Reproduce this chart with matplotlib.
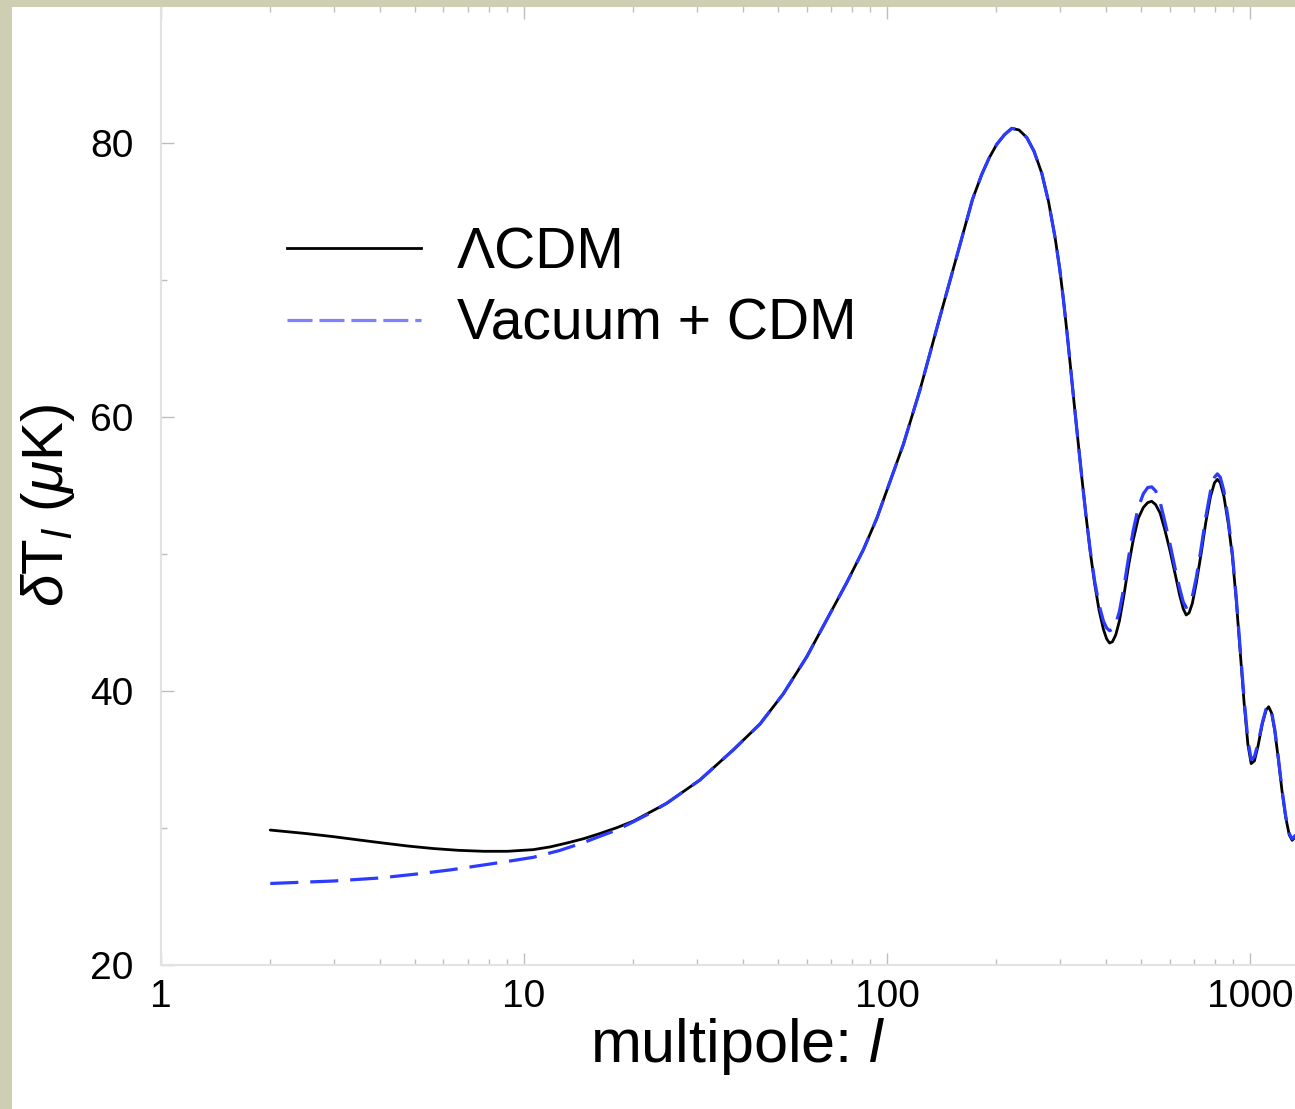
import matplotlib
matplotlib.use("Agg")
import matplotlib.pyplot as plt
from matplotlib.patches import Rectangle
from matplotlib.lines import Line2D

plt.rcParams['font.family'] = ['Liberation Sans', 'DejaVu Sans']
plt.rcParams['mathtext.fontset'] = 'custom'
plt.rcParams['mathtext.rm'] = 'Liberation Sans'
plt.rcParams['mathtext.it'] = 'Liberation Sans:italic'

# ---- data ----
l_lcdm = [2, 2.5, 2.98, 3.5, 4.1, 4.8, 5.63, 6.6, 7.73, 9.0, 10.6, 11.8, 13.1, 14.6, 16.2,
          18.0, 20, 24.7, 30.5, 37.7, 44.7,
          51.8, 60.1, 68.2, 77.4, 86, 93.7, 101, 110.9, 123.3, 138.5, 158.9, 172,
          182.3, 191, 200.5, 210.5, 220.6, 231, 242.6, 254, 266.8, 278.6, 290.3,
          299, 306, 313.3, 320, 327.3, 335, 343.6, 353.2, 363.1, 373.3, 383.7,
          394.5, 402.7, 410.2, 417.8, 426.6, 436.5, 448.7, 462.4, 476.4, 492,
          508.2, 522.4, 535.8, 549.5, 565, 582, 601, 621, 639.7, 654.6, 666.8,
          679.2, 693.4, 711.2, 732.8, 755.1, 778, 798, 812.8, 827.9, 847.2, 871,
          893.3, 916.2, 939.7, 963.8, 986.3, 1006.9, 1028, 1052, 1081, 1107, 1125,
          1146, 1169.5, 1196.7, 1224.6, 1253, 1282, 1306, 1337]
dT_lcdm = [29.85, 29.6, 29.37, 29.13, 28.9, 28.68, 28.5, 28.37, 28.3, 28.3, 28.42, 28.62,
           28.9, 29.22, 29.6, 30.02, 30.5, 31.8, 33.5, 35.7, 37.6,
           39.8, 42.5, 45.2, 47.9, 50.3, 52.6, 55.0, 58.0, 62.0, 66.9, 72.6, 75.9,
           77.7, 78.9, 79.9, 80.6, 81.07, 80.95, 80.4, 79.4, 77.8, 75.7, 73.1,
           70.8, 68.6, 66.1, 63.7, 61.1, 58.5, 55.7, 52.8, 50.1, 47.8, 45.9,
           44.5, 43.8, 43.5, 43.6, 44.1, 45.1, 46.9, 49.1, 51.0, 52.6,
           53.4, 53.75, 53.85, 53.6, 53.0, 51.8, 50.3, 48.6, 47.0, 46.0, 45.55,
           45.7, 46.4, 47.9, 50.0, 52.3, 54.2, 55.2, 55.45, 55.2, 54.2, 52.2,
           49.9, 46.6, 42.8, 39.0, 36.1, 34.7, 34.9, 36.0, 37.6, 38.6, 38.85,
           38.4, 37.1, 35.0, 32.7, 30.8, 29.5, 29.1, 29.4]

l_vac = [2, 2.98, 4.0, 5.06, 6.3, 7.73, 9.1, 10.6, 12.5, 14.57, 16.2, 18.0, 20, 22.2, 24.7,
         30.5, 37.7, 44.7,
         51.8, 60.1, 68.2, 77.4, 86, 93.7, 101, 110.9, 123.3, 138.5, 158.9, 172,
         182.3, 191, 200.5, 210.5, 220.6, 231, 242.6, 254, 266.8, 278.6, 290.3,
         299, 306, 313.3, 320, 327.3, 335, 343.6, 353.2, 363.1, 373.3, 383.7,
         394.5, 402.7, 410.2, 417.8, 426.6, 436.5, 448.7, 462.4, 476.4, 492,
         508.2, 522.4, 535.8, 549.5, 565, 582, 601, 621, 639.7, 654.6, 666.8,
         679.2, 693.4, 711.2, 732.8, 755.1, 778, 798, 812.8, 827.9, 847.2, 871,
         893.3, 916.2, 939.7, 963.8, 986.3, 1006.9, 1028, 1052, 1081, 1107, 1125,
         1146, 1169.5, 1196.7, 1224.6, 1253, 1282, 1306, 1337]
dT_vac = [25.95, 26.13, 26.35, 26.64, 26.95, 27.3, 27.58, 27.86, 28.35, 28.93, 29.4, 29.85,
          30.45, 31.07, 31.8,
          33.5, 35.7, 37.6,
          39.8, 42.5, 45.2, 47.9, 50.3, 52.6, 55.0, 58.0, 62.0, 66.9, 72.6, 75.9,
          77.7, 78.9, 79.9, 80.6, 81.07, 80.95, 80.4, 79.4, 77.8, 75.7, 73.1,
          70.8, 68.6, 66.1, 63.7, 61.1, 58.5, 55.7, 52.8, 50.2, 48.0, 46.3,
          45.1, 44.6, 44.4, 44.5, 44.9, 45.8, 47.5, 49.7, 51.7, 53.4,
          54.4, 54.85, 54.9, 54.6, 53.8, 52.4, 50.8, 49.0, 47.5, 46.5, 46.1,
          46.25, 46.9, 48.3, 50.4, 52.7, 54.6, 55.6, 55.85, 55.6, 54.6, 52.5,
          50.1, 46.8, 43.0, 39.3, 36.4, 35.0, 35.2, 36.2, 37.7, 38.7, 38.9,
          38.5, 37.2, 35.1, 32.8, 30.9, 29.6, 29.2, 29.5]

x_ticks = [1, 10, 100, 1000]
x_ticklabels = ['1', '10', '100', '1000']
y_ticks = [20, 40, 60, 80]
y_minor = [30, 50, 70]
series_labels = ['ΛCDM', 'Vacuum + CDM']

W, H = 1295, 1109
fig = plt.figure(figsize=(W / 100, H / 100), dpi=100)
fig.patch.set_facecolor('white')

border = '#cdceb2'
fig.add_artist(Rectangle((0, 0), 12 / W, 1, transform=fig.transFigure,
                         facecolor=border, edgecolor='none', zorder=20))
fig.add_artist(Rectangle((0, 1 - 7 / H), 1, 7 / H, transform=fig.transFigure,
                         facecolor=border, edgecolor='none', zorder=20))

ax = fig.add_axes([161 / W, 144 / H, 1153 / W, 959 / H])
ax.set_facecolor('white')
ax.set_xscale('log')
ax.set_xlim(1, 1500)
ax.set_ylim(20, 90)

ax.plot(l_lcdm, dT_lcdm, color='black', lw=2.0, zorder=3,
        solid_capstyle='round', solid_joinstyle='round')
lw_b = 2.3
ax.plot(l_vac, dT_vac, color='#2b3bff', lw=lw_b, dashes=(20.2 / lw_b, 8.6 / lw_b), zorder=4)

ax.set_xticks(x_ticks)
ax.set_xticklabels(x_ticklabels)
ax.set_yticks(y_ticks)
ax.set_yticks(y_minor, minor=True)
ax.tick_params(which='both', direction='in', color='#bdbdbd', width=1.0,
               top=True, right=False, labelsize=28)
ax.tick_params(axis='x', which='major', length=9, pad=10)
ax.tick_params(axis='x', which='minor', length=4)
ax.tick_params(axis='y', which='major', length=9, pad=20)
ax.tick_params(axis='y', which='minor', length=4)
for s in ['left', 'bottom', 'top']:
    ax.spines[s].set_color('#e2e2e2')
    ax.spines[s].set_linewidth(1.5)
ax.spines['right'].set_visible(False)

ax.set_xlabel(r'multipole: $\mathit{l}$', fontsize=44, va='top')
ax.xaxis.set_label_coords(0.5, (H - 1016 - 144) / 959)
ax.set_ylabel(r'$\delta$T$_{\mathit{l}}$ ($\mu$K)', fontsize=42, va='center')
ax.yaxis.set_label_coords((48 - 161) / 1153, (H - 505 - 144) / 959)

h1 = Line2D([], [], color='black', lw=2.0)
h2 = Line2D([], [], color='#8080ff', lw=2.3, dashes=(18 / 2.3, 5 / 2.3))
ax.legend([h1, h2], series_labels, loc='center left',
          bbox_to_anchor=(287 / W, 1 - 289 / H), bbox_transform=fig.transFigure,
          frameon=False, fontsize=41, handlelength=2.35, handletextpad=0.63,
          labelspacing=0.31, borderpad=0, borderaxespad=0)

fig.savefig('out.png', dpi=100, facecolor=fig.get_facecolor())
